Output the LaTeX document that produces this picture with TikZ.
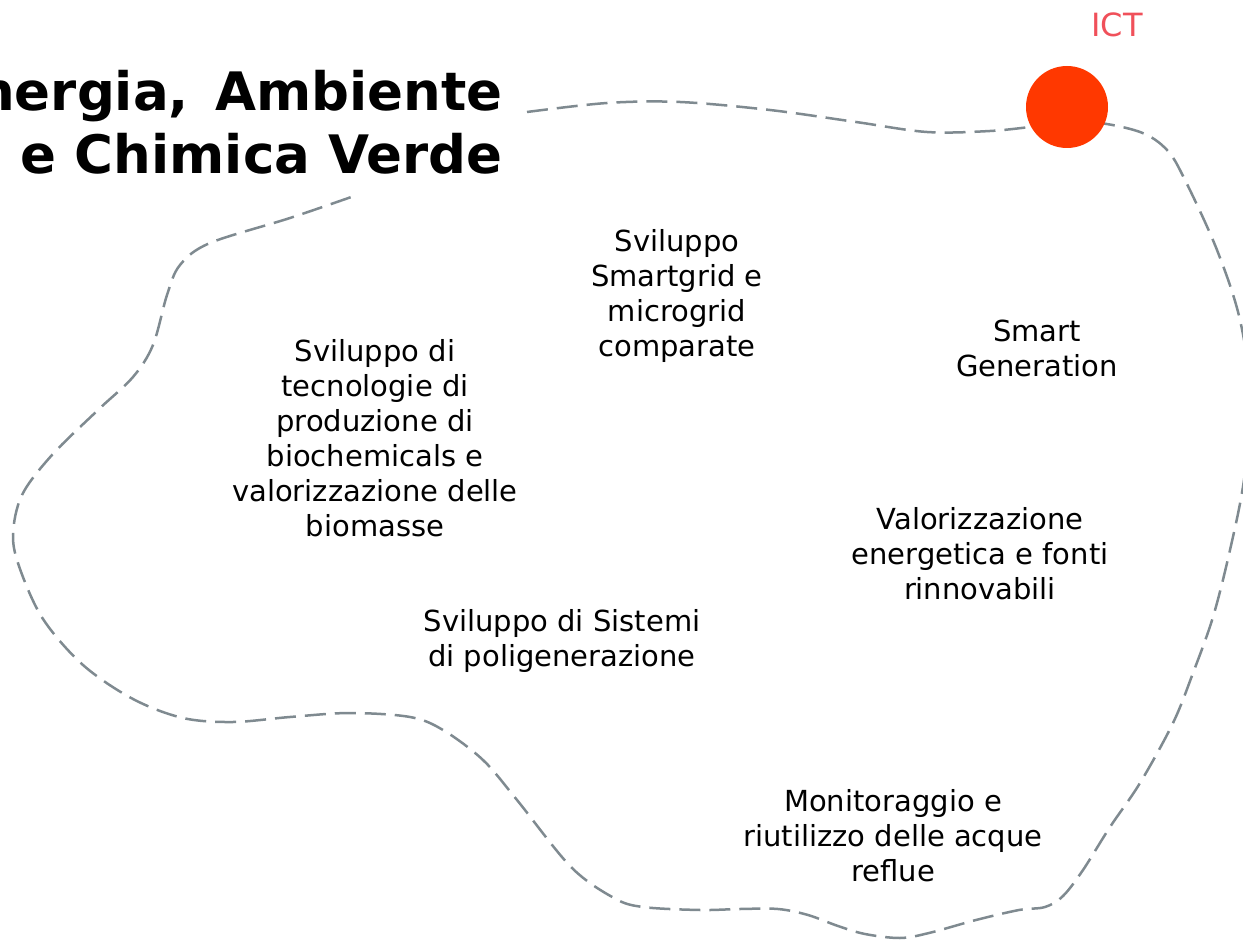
\documentclass[tikz,border=0pt]{standalone}
\usepackage{fontspec}
\setmainfont{DejaVu Sans}
\usepackage{xcolor}
\usepackage{tikz}
\usetikzlibrary{positioning}
\definecolor{blobline}{HTML}{7F8A90}
\definecolor{ictred}{HTML}{FF3800}
\definecolor{ictlabel}{HTML}{F0505A}

\begin{document}
\begin{tikzpicture}[
  x=1pt,y=-1pt,
  topic/.style={align=center,inner sep=0pt,font=\fontsize{29}{35}\selectfont},
  heading/.style={align=right,inner sep=0pt,anchor=east,
                  font=\fontsize{53}{63}\selectfont\bfseries},
  blob/.style={draw=blobline,line width=2.5pt,dash pattern=on 21pt off 9pt},
  hub/.style={circle,fill=ictred,minimum size=82pt,inner sep=0pt}
]
\useasboundingbox (0,0) rectangle (1243,941);
\clip (0,0) rectangle (1243,941);

% the open dashed outline round the topics
\draw[blob] plot[smooth,tension=0.55] coordinates {
  (527,112) (607,103) (680,102) (770,110) (856,122) (927,132) (990,131)
  (1040,126) (1090,122) (1140,132) (1167,150) (1185,180) (1217,250)
  (1240,320) (1251,400) (1244,480) (1230,550) (1213,617) (1193,673)
  (1173,723) (1140,783) (1110,827) (1083,870) (1063,896) (1045,907)
  (1019,910) (976,920) (929,933) (900,938) (865,934) (838,926) (808,915)
  (778,909) (740,909) (700,910) (643,907) (614,898) (571,867) (517,800)
  (483,760) (443,730) (410,717) (350,713) (290,717) (233,722) (183,718)
  (133,699) (83,665) (43,619) (20,569) (13,535) (22,495) (52,455)
  (98,410) (133,377) (153,345) (167,295) (180,265) (210,243) (290,218)
  (357,195)};

% title, cut by the left edge
\node[heading] (title) at (503,122) {Energia,\hspace{8pt} Ambiente\\e Chimica Verde};

% ICT hub on the outline
\node[hub] (ict) at (1067,107) {};
\node[inner sep=0pt,text=ictlabel,font=\fontsize{32}{38}\selectfont]
  (ictname) at (1117,25) {ICT};

% topics inside the outline
\node[topic] (smartgrid) at (677,296) {Sviluppo\\Smartgrid e\\microgrid\\comparate};
\node[topic] (smartgen) at (1037,348) {Smart\\Generation};
\node[topic] (biochem) at (375,438)
  {Sviluppo di\\tecnologie di\\produzione di\\biochemicals e\\valorizzazione delle\\biomasse};
\node[topic] (rinnov) at (980,554) {Valorizzazione\\energetica e fonti\\rinnovabili};
\node[topic] (poligen) at (562,641) {Sviluppo di Sistemi\\di poligenerazione};
\node[topic] (acque) at (893,836) {Monitoraggio e\\riutilizzo delle acque\\reflue};
\end{tikzpicture}
\end{document}
